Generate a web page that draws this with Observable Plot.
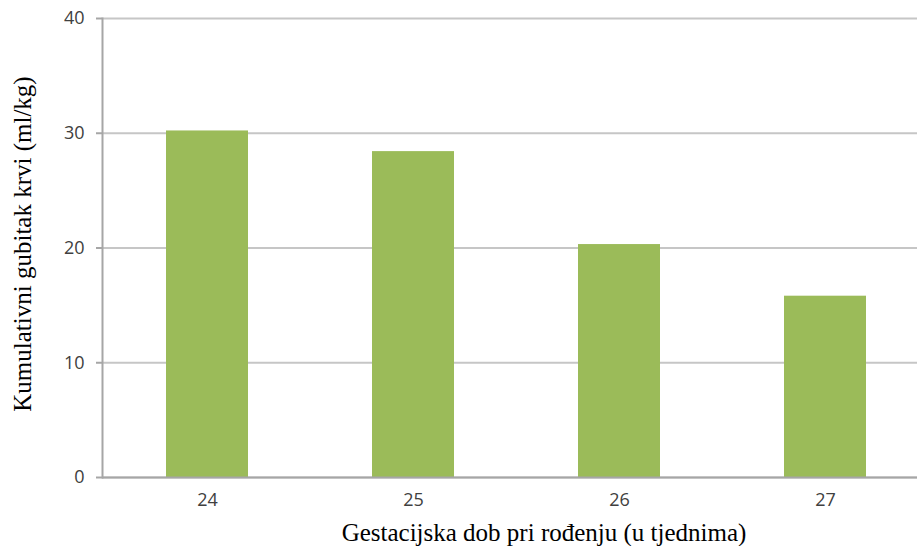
<!DOCTYPE html>
<html>
<head>
<meta charset="utf-8">
<script src="https://cdn.jsdelivr.net/npm/d3@7"></script>
<script src="https://cdn.jsdelivr.net/npm/@observablehq/plot@0.6"></script>
<style>
  html, body { margin: 0; padding: 0; background: #fff; }
  #chart { width: 917px; height: 546px; }
</style>
</head>
<body>
<div id="chart"></div>
<script>
const weeks = ["24", "25", "26", "27"];
const bloodLoss = [30.2, 28.4, 20.3, 15.8];
const yTicks = [0, 10, 20, 30, 40];
const xLabel = "Gestacijska dob pri rođenju (u tjednima)";
const yLabel = "Kumulativni gubitak krvi (ml/kg)";

const data = weeks.map((w, i) => ({week: w, value: bloodLoss[i]}));

const chart = Plot.plot({
  width: 917,
  height: 546,
  marginTop: 18,
  marginBottom: 69,
  marginLeft: 102,
  marginRight: 0,
  style: {background: "#fff", overflow: "visible"},
  x: {domain: weeks, range: [103, 929], paddingInner: 0.6, paddingOuter: 0.3, label: null},
  y: {domain: [0, 40], ticks: yTicks, label: null},
  marks: [
    Plot.gridY(yTicks, {stroke: "#c6c6c6", strokeWidth: 2, strokeOpacity: 1}),
    Plot.barY(data, {x: "week", y: "value", fill: "#9bbb59"}),
    Plot.ruleY([0], {stroke: "#a6a6a6", strokeWidth: 2}),
    Plot.frame({anchor: "left", stroke: "#a6a6a6", strokeWidth: 2}),
    Plot.axisY(yTicks, {tickSize: 6, tickPadding: 12, stroke: "#a6a6a6", strokeWidth: 2,
      fontSize: 18, fill: "#404040", fontFamily: "Open Sans, sans-serif", label: null}),
    Plot.axisX({tickSize: 0, tickPadding: 16, fontSize: 18, fill: "#404040",
      fontFamily: "Open Sans, sans-serif", label: null}),
    Plot.text([xLabel], {frameAnchor: "bottom", lineAnchor: "middle", dx: 34, dy: 55, fontSize: 25,
      fontFamily: "Liberation Serif, serif", fill: "#000", text: d => d}),
    Plot.text([yLabel], {frameAnchor: "left", textAnchor: "middle", lineAnchor: "middle",
      dx: -80, dy: -4, rotate: -90, fontSize: 25,
      fontFamily: "Liberation Serif, serif", fill: "#000", text: d => d})
  ]
});
document.getElementById("chart").appendChild(chart);
</script>
</body>
</html>
